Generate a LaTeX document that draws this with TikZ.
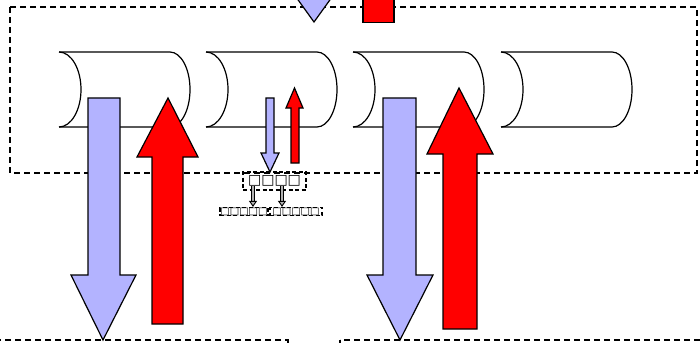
\documentclass[tikz,border=0pt]{standalone}
\usepackage{fontspec}
\newfontfamily\symfont{DejaVu Sans}
\usetikzlibrary{arrows.meta,calc}
\definecolor{lilac}{RGB}{179,179,255}
\tikzset{
  dashbox/.style={draw=black, line width=1.3pt, dash pattern=on 6pt off 4pt},
  drum/.style={draw=black, line width=1.2pt, fill=white},
  blockarrow/.style={draw=black, line width=1.2pt, line join=miter},
  tinybox/.style={draw=black, line width=1.2pt, dash pattern=on 4pt off 2.5pt, inner sep=0pt},
  smallarr/.style={line width=0.9pt, double=gray!60, double distance=1.8pt,
    -{Triangle[width=8pt,length=6pt,fill=gray!60]}}
}
\begin{document}
\begin{tikzpicture}[x=1pt,y=-1pt]
\useasboundingbox (0,0) rectangle (700,342);
\clip (0,0) rectangle (700,342);

% outer dashed frame
\draw[dashbox] (10,7) rectangle (697,173);

% the four drums
\foreach \x in {59,206,353,501}{
  \draw[drum] (\x,52) -- ++(111,0)
     arc[start angle=90,end angle=-90,x radius=20pt,y radius=37.5pt] -- (\x,127);
  \draw[drum, fill=none] (\x,52)
     arc[start angle=90,end angle=-90,x radius=22pt,y radius=37.5pt];
}

% incoming arrow and block at the top edge
\fill[lilac] (296,-3) -- (332,-3) -- (314,22) -- cycle;
\draw[blockarrow] (296,-3) -- (314,22) -- (332,-3);
\filldraw[fill=red, draw=black, line width=1.2pt] (363,-3) rectangle (394,22.5);

% large down/up block arrows
\filldraw[blockarrow, fill=lilac] (88,98) -- (120,98) -- (120,275) -- (136,275)
   -- (103,340) -- (71,275) -- (88,275) -- cycle;
\filldraw[blockarrow, fill=red] (152,324) -- (152,157) -- (137,157) -- (168,98)
   -- (198,157) -- (183,157) -- (183,324) -- cycle;
\filldraw[blockarrow, fill=lilac] (383,98) -- (416,98) -- (416,275) -- (433,275)
   -- (400,340) -- (367,275) -- (383,275) -- cycle;
\filldraw[blockarrow, fill=red] (443,329) -- (443,154) -- (427,154) -- (459,88)
   -- (493,154) -- (477,154) -- (477,329) -- cycle;

% small pair inside the second drum
\filldraw[blockarrow, fill=lilac] (266,98) -- (274,98) -- (274,153) -- (279,153)
   -- (270,172) -- (261,153) -- (266,153) -- cycle;
\filldraw[blockarrow, fill=red] (291,163) -- (291,108) -- (286,108) -- (294.5,88)
   -- (303,108) -- (299,108) -- (299,163) -- cycle;

% tiny labelled boxes
\node[tinybox, minimum width=63pt, minimum height=18pt,
      font=\symfont\bfseries\fontsize{14}{14}\selectfont]
  (top) at (274.5,181) {□□□□};
\node[tinybox, minimum width=48pt, minimum height=8pt,
      font=\symfont\bfseries\fontsize{10}{10}\selectfont]
  (lowA) at (244,211.5) {□□□□□};
\node[tinybox, minimum width=52pt, minimum height=8pt,
      font=\symfont\bfseries\fontsize{10}{10}\selectfont]
  (lowB) at (296,211.5) {□□□□□};
\draw[smallarr] (top.south -| 253,0) ++(0,-5) -- (lowA.north -| 253,0);
\draw[smallarr] (top.south -| 282,0) ++(0,-5) -- (lowB.north -| 282,0);

% frames continuing below
\draw[dashbox] (-5,340) rectangle (288,360);
\draw[dashbox] (340,340) rectangle (705,360);
\end{tikzpicture}
\end{document}
